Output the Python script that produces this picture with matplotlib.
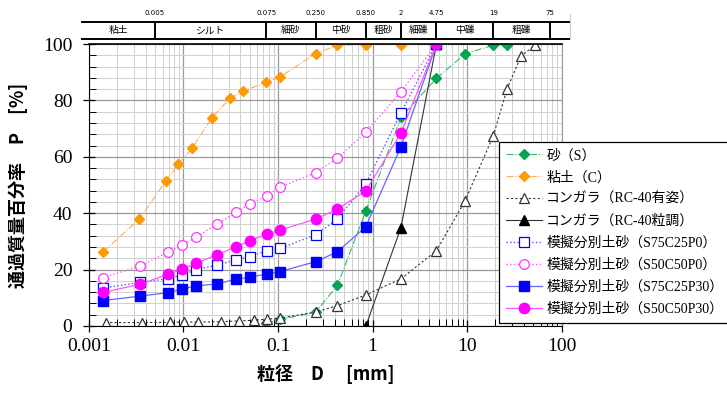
import numpy as np
import matplotlib
matplotlib.use('Agg')
from matplotlib import pyplot as plt
from matplotlib import transforms
from matplotlib.ticker import LogLocator, MultipleLocator, FixedLocator, NullFormatter

'data read off the picture'
sand_d = [0.075, 0.106, 0.25, 0.425, 0.85, 2.0, 4.75, 9.5, 19, 26.5]
sand_p = [0.9, 2.3, 4.9, 14.4, 40.8, 74.0, 87.8, 96.5, 99.6, 99.8]

clay_d = [0.0014, 0.0034, 0.0065, 0.0088, 0.0124, 0.020, 0.031, 0.043, 0.075, 0.105, 0.25, 0.425, 0.85, 2.0, 4.75]
clay_p = [26.2, 37.8, 51.4, 57.3, 63.2, 73.9, 80.7, 83.3, 86.4, 88.3, 96.6, 99.6, 99.8, 99.8, 100]

rc_d = [0.0015, 0.0036, 0.0072, 0.0101, 0.0143, 0.025, 0.0386, 0.0557, 0.076, 0.105,
        0.25, 0.425, 0.85, 2.0, 4.75, 9.5, 19, 26.5, 37.5, 53]
rc_p = [1.2, 1.2, 1.3, 1.4, 1.4, 1.5, 1.8, 2.0, 2.4, 2.8,
        4.9, 7.2, 11.0, 16.7, 26.7, 44.3, 67.5, 84.0, 95.9, 99.6]

rcg_d = [0.85, 2.0, 4.75]
rcg_p = [0.0, 34.9, 100]

mix_d = [0.0014, 0.0035, 0.0068, 0.0097, 0.0135, 0.0225, 0.036, 0.05, 0.076, 0.105, 0.25, 0.425, 0.85, 2.0, 4.75]
s75p0 = [13.4, 15.5, 16.7, 18.1, 19.9, 21.6, 23.4, 24.6, 26.7, 27.5, 32.3, 37.9, 50.4, 75.6, 100]
s50p0 = [17.1, 21.3, 26.1, 28.7, 31.4, 36.1, 40.3, 43.3, 46.1, 49.2, 54.4, 59.5, 68.7, 83.1, 100]
s75p30 = [9.0, 10.6, 11.8, 13.1, 14.2, 14.9, 16.6, 17.3, 18.4, 19.3, 22.8, 26.3, 35.2, 63.6, 100]
s50p30 = [11.9, 14.8, 18.3, 20.1, 22.2, 25.2, 28.1, 30.2, 32.5, 34.0, 37.9, 41.5, 47.9, 68.5, 100]

'soil classification band'
band_edges = [0.00084, 0.005, 0.075, 0.250, 0.850, 2, 4.75, 19, 75, 123]
band_names = ['粘土', 'シルト', '細砂', '中砂', '粗砂', '細礫', '中礫', '粗礫', '']
band_ticks = ['0.005', '0.075', '0.250', '0.850', '2', '4.75', '19', '75']

jp = ['Liberation Serif', 'Noto Sans CJK JP']
goth = ['Noto Sans CJK JP', 'DejaVu Sans']

fig = plt.figure(figsize=(7.27, 3.98), dpi=100)
ax = fig.add_axes([0.1224, 0.181, 0.7724 - 0.1224, 0.8894 - 0.181])

ax.plot(sand_d, sand_p, '-.', color='#33bb66', lw=0.8, marker='D', ms=5.5,
        mfc='#00a550', mec='#00a550', label='砂（S）')
ax.plot(clay_d, clay_p, '-.', color='#ffaa55', lw=0.8, marker='D', ms=5.5,
        mfc='#ff9900', mec='#ff9900', label='粘土（C）')
ax.plot(rc_d, rc_p, color='#333333', lw=0.8, dashes=(2, 2), marker='^', ms=7,
        mfc='white', mec='#333333', mew=0.9, label='コンガラ（RC-40有姿）')
ax.plot(rcg_d, rcg_p, '-', color='#333333', lw=0.8, marker='^', ms=7,
        mfc='black', mec='black', label='コンガラ（RC-40粒調）')
ax.plot(mix_d, s75p0, ':', color='#5555ff', lw=1.0, marker='s', ms=6.5,
        mfc='white', mec='#0000ff', mew=0.9, label='模擬分別土砂（S75C25P0）')
ax.plot(mix_d, s50p0, ':', color='#ff55ff', lw=1.0, marker='o', ms=7,
        mfc='white', mec='#ff33ff', mew=0.9, label='模擬分別土砂（S50C50P0）')
ax.plot(mix_d, s75p30, '-', color='#6666ff', lw=0.9, marker='s', ms=6.5,
        mfc='#0000ff', mec='#0000ff', label='模擬分別土砂（S75C25P30）')
ax.plot(mix_d, s50p30, '-', color='#ff55ff', lw=0.9, marker='o', ms=7.5,
        mfc='#ff00ff', mec='#ff00ff', label='模擬分別土砂（S50C50P30）')

ax.set_xscale('log')
ax.set_xlim(0.001, 100)
ax.set_ylim(0, 100)
ax.xaxis.set_major_locator(FixedLocator([0.001, 0.01, 0.1, 1, 10, 100]))
ax.xaxis.set_minor_locator(LogLocator(base=10, subs=np.arange(2, 10)))
ax.xaxis.set_minor_formatter(NullFormatter())
ax.set_xticklabels(['0.001', '0.01', '0.1', '1', '10', '100'])
ax.yaxis.set_major_locator(MultipleLocator(20))
ax.yaxis.set_minor_locator(MultipleLocator(4))

ax.grid(which='major', color='#999999', lw=0.9)
ax.grid(which='minor', color='#d0d0d0', lw=0.7)
ax.set_axisbelow(True)
ax.tick_params(which='major', direction='inout', length=8, width=0.9, labelsize=14)
ax.tick_params(axis='x', which='major', pad=5)
ax.tick_params(axis='y', which='major', pad=8)
ax.tick_params(which='minor', direction='in', length=5, width=0.7)
for lab in ax.get_xticklabels() + ax.get_yticklabels():
    lab.set_family('Liberation Serif')
ax.spines['right'].set_color('#999999')
ax.spines['top'].set_linewidth(1.2)

ax.set_xlabel('粒径　D　 [mm]', family=goth, fontweight='bold', fontsize=13, labelpad=6)
ax.set_ylabel('通過質量百分率　P　[%]', family=goth, fontweight='bold', fontsize=13, labelpad=11)

'band on top of the plot'
tr = transforms.blended_transform_factory(ax.transData, fig.transFigure)
y_top, y_bot = 1 - 21.7 / 398, 1 - 39 / 398
ax.plot([band_edges[0], band_edges[-1]], [y_top, y_top], color='black', lw=1.4,
        transform=tr, clip_on=False)
ax.plot([band_edges[0], band_edges[-1]], [y_bot, y_bot], color='black', lw=1.4,
        transform=tr, clip_on=False)
for e, t in zip(band_edges[1:-1], band_ticks):
    ax.plot([e, e], [y_bot, y_top], color='black', lw=1.4, transform=tr, clip_on=False)
    ax.text(e, 1 - 13 / 398, t, transform=tr, ha='center', va='center',
            fontsize=5, family='DejaVu Sans')
ax.plot([band_edges[-1], band_edges[-1]], [y_bot, 1 - 14 / 398], color='#cccccc', lw=0.8,
        transform=tr, clip_on=False)
for i, name in enumerate(band_names):
    xc = np.sqrt(band_edges[i] * band_edges[i + 1])
    ax.text(xc, (y_top + y_bot) / 2, name, transform=tr, ha='center', va='center',
            fontsize=7, family=goth)

leg = fig.legend(loc='upper left', bbox_to_anchor=(499 / 727, 1 - 142 / 398),
                 prop={'family': jp, 'size': 10}, frameon=True, fancybox=False,
                 edgecolor='black', framealpha=1, handlelength=2.6, labelspacing=0.62,
                 borderpad=0.5, borderaxespad=0, handletextpad=0.3)
leg.get_frame().set_linewidth(0.9)

fig.savefig('out.png', dpi=100)
